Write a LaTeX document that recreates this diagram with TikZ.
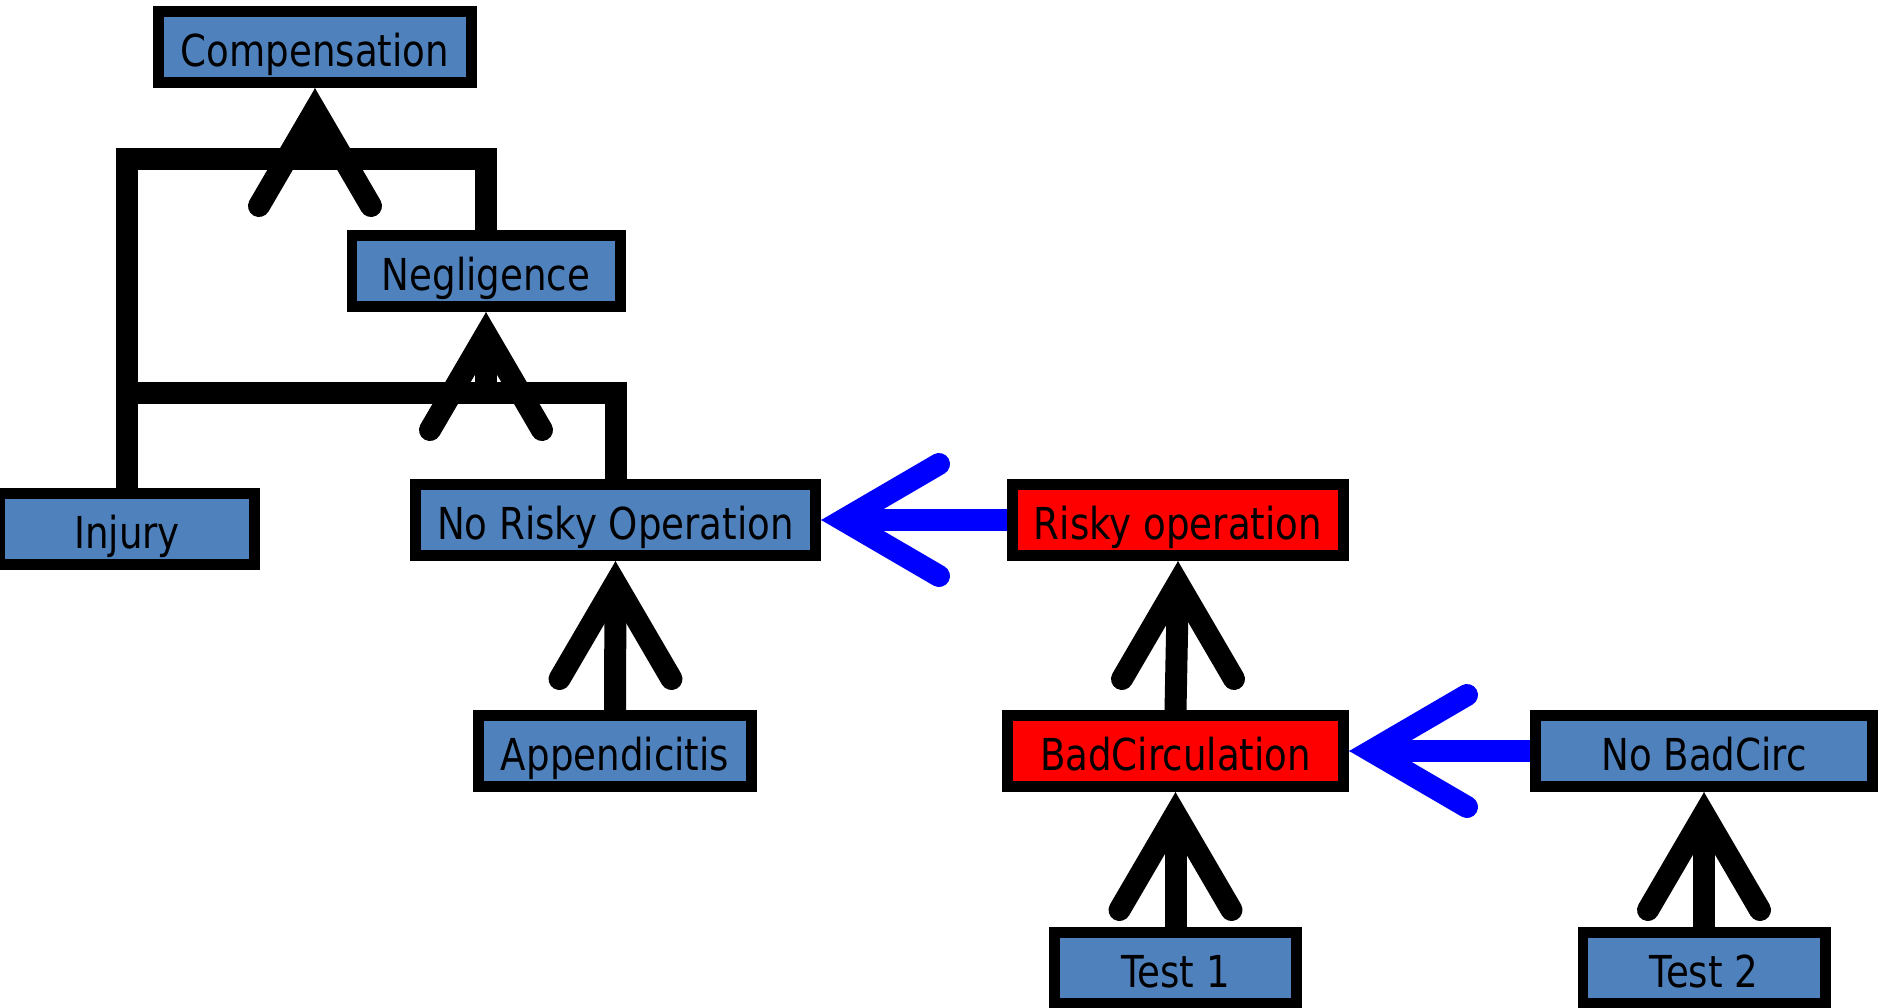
\documentclass[tikz,border=0pt]{standalone}
\usepackage{fontspec}
\setmainfont{DejaVu Sans}[FakeStretch=0.845]
\usetikzlibrary{calc}
\definecolor{boxblue}{RGB}{79,129,189}
\definecolor{arrblue}{RGB}{0,0,255}
\begin{document}
\begin{tikzpicture}[x=1pt,y=1pt,
  box/.style={draw=black, line width=10.7pt, fill=boxblue, minimum height=71.3pt,
    inner sep=0pt, text height=38pt, text depth=0pt, font=\fontsize{44}{44}\selectfont},
  redbox/.style={box, fill=red},
  conn/.style={line width=22pt, line join=miter},
  vhead/.pic={
    \fill (0,0) -- (-22.4,-60.4) -- (22.4,-60.4) -- cycle;
    \draw[line width=22pt, line join=miter, line cap=round] (-56,-118) -- (0,-22) -- (56,-118);
  }]
\useasboundingbox (0,0) rectangle (1878,-1007);

\node[box, minimum width=313.3pt] (comp) at (315,-47) {Compensation};
\node[box, minimum width=268.3pt] (neg) at (486,-271) {Negligence};
\node[box, minimum width=255.3pt] (inj) at (127,-529) {Injury};
\node[box, minimum width=400.3pt] (nro) at (615.5,-520) {No Risky Operation};
\node[box, minimum width=273.3pt] (app) at (615,-751) {Appendicitis};
\node[redbox, minimum width=331.3pt] (risky) at (1178,-520) {Risky operation};
\node[redbox, minimum width=336.3pt] (badc) at (1175.5,-751) {BadCirculation};
\node[box, minimum width=337.3pt] (nobc) at (1704,-751) {No BadCirc};
\node[box, minimum width=242.3pt] (t1) at (1175.5,-968) {Test 1};
\node[box, minimum width=242.3pt] (t2) at (1704,-968) {Test 2};

\coordinate (barA) at (315,-159);
\coordinate (barB) at (486,-393);

\draw[conn] (inj.north) |- (barA) -- ($(comp.south)+(0,-22)$);
\draw[conn] (neg.north) |- (barA) -- ($(comp.south)+(0,-22)$);
\pic at (comp.south) {vhead};

\draw[conn] (inj.north) |- (barB) -- ($(neg.south)+(0,-22)$);
\draw[conn] (nro.north) |- (barB) -- ($(neg.south)+(0,-22)$);
\pic at (neg.south) {vhead};

\draw[conn] (app.north) -- ($(nro.south)+(0,-22)$);
\pic at (nro.south) {vhead};
\draw[conn] (badc.north) -- ($(risky.south)+(0,-22)$);
\pic at (risky.south) {vhead};
\draw[conn] (t1.north) -- ($(badc.south)+(0,-22)$);
\pic at (badc.south) {vhead};
\draw[conn] (t2.north) -- ($(nobc.south)+(0,-22)$);
\pic at (nobc.south) {vhead};

\draw[conn, arrblue] (risky.west) -- ($(nro.east)+(22,0)$);
\pic[arrblue, rotate=90] at (nro.east) {vhead};
\draw[conn, arrblue] (nobc.west) -- ($(badc.east)+(22,0)$);
\pic[arrblue, rotate=90] at (badc.east) {vhead};
\end{tikzpicture}
\end{document}
